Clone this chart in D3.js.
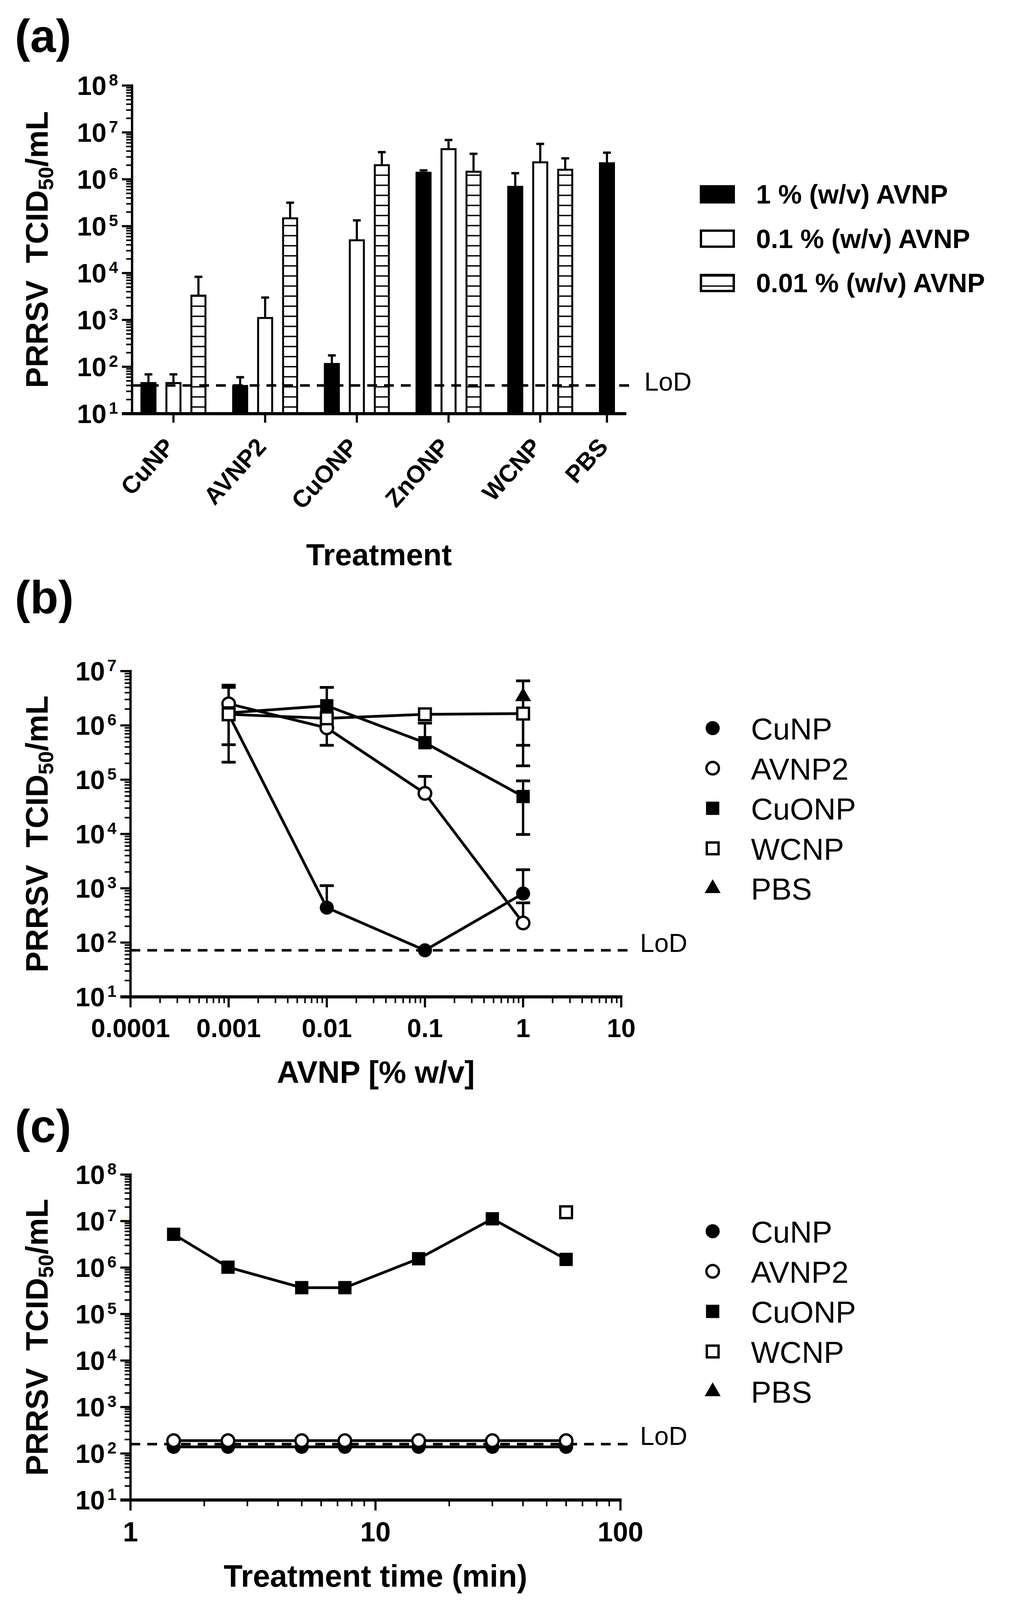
<!DOCTYPE html>
<html>
<head>
<meta charset="utf-8">
<script src="https://cdnjs.cloudflare.com/ajax/libs/d3/7.8.5/d3.min.js"></script>
<style>
  body { margin: 0; background: #fff; }
  text { font-family: "Liberation Sans", Arial, sans-serif; fill: #000; }
</style>
</head>
<body>
<svg id="fig"></svg>
<script>
var svgWidth = 2585;
var svgHeight = 4109;

/******************************* data *******************************/
// panel (a) - grouped bars
var treatments = ["CuNP", "AVNP2", "CuONP", "ZnONP", "WCNP", "PBS"];
var concLabels = ["1 % (w/v) AVNP", "0.1 % (w/v) AVNP", "0.01 % (w/v) AVNP"];
var bar1pct      = [45, 39, 115, 1.38e6, 6.9e5, 2.2e6];
var bar1pctErr   = [69, 60, 175, 1.55e6, 1.35e6, 3.7e6];
var bar01pct     = [45, 1100, 50000, 4.4e6, 2.3e6, null];
var bar01pctErr  = [69, 3000, 133000, 6.9e6, 5.7e6, null];
var bar001pct    = [3300, 147000, 2.0e6, 1.45e6, 1.6e6, null];
var bar001pctErr = [8300, 317000, 3.8e6, 3.5e6, 2.8e6, null];
var lodA = 40;

// panel (b) - dose response
var concX = [0.001, 0.01, 0.1, 1];
var bTickLabels = ["0.0001", "0.001", "0.01", "0.1", "1", "10"];
var bCuNP     = [1.6e6, 440, 72, 800];
var bCuNPLo   = [2.1e5, null, null, null];
var bCuNPHi   = [null, 1120, null, 2200];
var bAVNP2    = [2.5e6, 9.0e5, 5.6e4, 230];
var bAVNP2Lo  = [null, 4.3e5, null, null];
var bAVNP2Hi  = [5.5e6, null, 1.15e5, 540];
var bCuONP    = [1.7e6, 2.3e6, 4.8e5, 4.9e4];
var bCuONPLo  = [null, null, null, 9.8e3];
var bCuONPHi  = [5.0e6, 5.0e6, 1.1e6, 9.5e4];
var bWCNP     = [1.6e6, 1.35e6, 1.6e6, 1.65e6];
var bWCNPLo   = [4.4e5, null, null, 4.3e5];
var bWCNPHi   = [null, null, null, null];
var bPBS      = [null, null, null, 3.4e6];
var bPBSLo    = [null, null, null, 1.8e5];
var bPBSHi    = [null, null, null, 6.6e6];
var lodB = 72;

// panel (c) - time course
var timeX = [1.5, 2.5, 5, 7.5, 15, 30, 60];
var cTickLabels = ["1", "10", "100"];
var cCuNP  = [139, 139, 139, 139, 139, 139, 139];
var cAVNP2 = [189, 189, 189, 189, 189, 189, 189];
var cCuONP = [5.2e6, 1.02e6, 3.7e5, 3.7e5, 1.55e6, 1.12e7, 1.5e6];
var cWCNP  = [null, null, null, null, null, null, 1.55e7];
var cPBS   = [null, null, null, null, null, null, null];
var lodC = 159;

var seriesNames = ["CuNP", "AVNP2", "CuONP", "WCNP", "PBS"];
var seriesShape = ["circle", "circle", "square", "square", "triangle"];
var seriesFilled = [true, false, true, false, true];

/******************************* svg *******************************/
var svg = d3.select("#fig")
    .attr("width", svgWidth)
    .attr("height", svgHeight)
    .attr("viewBox", `0 0 ${svgWidth} ${svgHeight}`);

svg.append("rect").attr("width", svgWidth).attr("height", svgHeight).attr("fill", "#fff");

var defs = svg.append("defs");
var hatch = defs.append("pattern")
    .attr("id", "hatch")
    .attr("patternUnits", "userSpaceOnUse")
    .attr("x", 0).attr("y", 8.15)
    .attr("width", 10).attr("height", 25.8);
hatch.append("rect").attr("width", 10).attr("height", 25.8).attr("fill", "#fff");
hatch.append("rect").attr("width", 10).attr("height", 3.5).attr("fill", "#000");

/******************************* helpers *******************************/
function yLogAxis(g, y, x0, e0, e1) {
    g.append("line")
        .attr("x1", x0).attr("x2", x0)
        .attr("y1", y(Math.pow(10, e1)) - 3).attr("y2", y(Math.pow(10, e0)))
        .attr("stroke", "#000").attr("stroke-width", 6);
    for (var e = e0; e <= e1; e++) {
        var v = Math.pow(10, e);
        g.append("line")
            .attr("x1", x0 - 26).attr("x2", x0)
            .attr("y1", y(v)).attr("y2", y(v))
            .attr("stroke", "#000").attr("stroke-width", 5.5);
        var t = g.append("text")
            .attr("x", x0 - 36).attr("y", y(v) + 24)
            .attr("text-anchor", "end")
            .attr("font-weight", "bold")
            .attr("font-size", 68);
        t.append("tspan").text("10");
        t.append("tspan").attr("dx", 6).attr("dy", -24).attr("font-size", 42).text(e);
        if (e < e1) {
            for (var k = 2; k <= 9; k++) {
                g.append("line")
                    .attr("x1", x0 - 15).attr("x2", x0)
                    .attr("y1", y(k * v)).attr("y2", y(k * v))
                    .attr("stroke", "#000").attr("stroke-width", 4);
            }
        }
    }
}

function xLogAxis(g, x, y0, e0, e1, labels, labelDy, fontSize) {
    g.append("line")
        .attr("x1", x(Math.pow(10, e0)) - 26).attr("x2", x(Math.pow(10, e1)) + 3)
        .attr("y1", y0).attr("y2", y0)
        .attr("stroke", "#000").attr("stroke-width", 8);
    for (var e = e0; e <= e1; e++) {
        var v = Math.pow(10, e);
        g.append("line")
            .attr("x1", x(v)).attr("x2", x(v))
            .attr("y1", y0).attr("y2", y0 + 27)
            .attr("stroke", "#000").attr("stroke-width", 5.5);
        g.append("text")
            .attr("x", x(v)).attr("y", y0 + labelDy)
            .attr("text-anchor", "middle")
            .attr("font-weight", "bold")
            .attr("font-size", fontSize)
            .text(labels[e - e0]);
        if (e < e1) {
            for (var k = 2; k <= 9; k++) {
                g.append("line")
                    .attr("x1", x(k * v)).attr("x2", x(k * v))
                    .attr("y1", y0).attr("y2", y0 + 16)
                    .attr("stroke", "#000").attr("stroke-width", 4);
            }
        }
    }
}

function yTitle(g, cx, cy) {
    var t = g.append("text")
        .attr("transform", `translate(${cx},${cy}) rotate(-90)`)
        .attr("text-anchor", "middle")
        .attr("font-weight", "bold")
        .attr("font-size", 80);
    t.append("tspan").text("PRRSV");
    t.append("tspan").attr("dx", 44).text("TCID");
    t.append("tspan").attr("font-size", 54).attr("dy", 14).text("50");
    t.append("tspan").attr("dy", -14).text("/mL");
}

function panelLabel(txt, y) {
    svg.append("text")
        .attr("x", 38).attr("y", y)
        .attr("font-weight", "bold")
        .attr("font-size", 118)
        .text(txt);
}

function lodLine(g, x1, x2, yv, textX, textDy) {
    g.append("line")
        .attr("x1", x1).attr("x2", x2)
        .attr("y1", yv).attr("y2", yv)
        .attr("stroke", "#000").attr("stroke-width", 6.5)
        .attr("stroke-dasharray", "25 18");
    g.append("text")
        .attr("x", textX).attr("y", yv + textDy)
        .attr("font-size", 66)
        .text("LoD");
}

function marker(g, shape, filled, cx, cy) {
    if (shape === "circle") {
        g.append("circle")
            .attr("cx", cx).attr("cy", cy)
            .attr("r", filled ? 18 : 16)
            .attr("fill", filled ? "#000" : "#fff")
            .attr("stroke", "#000").attr("stroke-width", filled ? 0 : 6);
    } else if (shape === "square") {
        var s = filled ? 34 : 30;
        g.append("rect")
            .attr("x", cx - s / 2).attr("y", cy - s / 2)
            .attr("width", s).attr("height", s)
            .attr("fill", filled ? "#000" : "#fff")
            .attr("stroke", "#000").attr("stroke-width", filled ? 0 : 6);
    } else {
        g.append("path")
            .attr("transform", `translate(${cx},${cy})`)
            .attr("d", d3.symbol().type(d3.symbolTriangle).size(720)())
            .attr("fill", "#000");
    }
}

function seriesLegend(g, x, y0, step) {
    seriesNames.forEach(function(name, i) {
        var yy = y0 + i * step;
        marker(g, seriesShape[i], seriesFilled[i], x, yy);
        g.append("text")
            .attr("x", x + 98).attr("y", yy + 29)
            .attr("font-size", 78)
            .text(name);
    });
}

/******************************* panel (a) *******************************/
var gA = svg.append("g");
var groupStep = 3.67;
var xA = d3.scaleLinear().domain([-0.656, 19.125]).range([338, 1603]);
var yA = d3.scaleLog().domain([10, 1e8]).range([1059, 219]);

var barSeries = [
    {vals: bar1pct, err: bar1pctErr, fill: "#000"},
    {vals: bar01pct, err: bar01pctErr, fill: "#fff"},
    {vals: bar001pct, err: bar001pctErr, fill: "url(#hatch)"}
];
var barW = 36;

// bars
treatments.forEach(function(tr, gi) {
    var slots = [];
    barSeries.forEach(function(s, si) {
        var v = s.vals[gi];
        if (v == null) return;
        var slot = gi * groupStep + si;
        slots.push(slot);
        var xc = xA(slot);
        gA.append("rect")
            .attr("x", xc - barW / 2).attr("y", yA(v))
            .attr("width", barW).attr("height", yA(10) - yA(v))
            .attr("fill", s.fill)
            .attr("stroke", "#000").attr("stroke-width", 5);
        var hi = s.err[gi];
        gA.append("line")
            .attr("x1", xc).attr("x2", xc)
            .attr("y1", yA(v)).attr("y2", yA(hi))
            .attr("stroke", "#000").attr("stroke-width", 5.5);
        gA.append("line")
            .attr("x1", xc - 10).attr("x2", xc + 10)
            .attr("y1", yA(hi)).attr("y2", yA(hi))
            .attr("stroke", "#000").attr("stroke-width", 6);
    });
    var center = xA(d3.mean(slots));
    gA.append("line")
        .attr("x1", center).attr("x2", center)
        .attr("y1", yA(10)).attr("y2", yA(10) + 23)
        .attr("stroke", "#000").attr("stroke-width", 5.5);
    gA.append("text")
        .attr("transform", `translate(${center + 6},${1146}) rotate(-48)`)
        .attr("text-anchor", "end")
        .attr("font-weight", "bold")
        .attr("font-size", 62)
        .text(tr);
});

lodLine(gA, 338, 1620, yA(lodA), 1649, 13);

yLogAxis(gA, yA, 338, 1, 8);
gA.append("line")
    .attr("x1", 338 - 26).attr("x2", 1603)
    .attr("y1", yA(10)).attr("y2", yA(10))
    .attr("stroke", "#000").attr("stroke-width", 8);

yTitle(gA, 122, (yA(10) + yA(1e8)) / 2);
gA.append("text")
    .attr("x", 970).attr("y", 1447)
    .attr("text-anchor", "middle")
    .attr("font-weight", "bold")
    .attr("font-size", 78)
    .text("Treatment");

// legend (a)
var legFill = ["#000", "#fff", "url(#hatch)"];
concLabels.forEach(function(lbl, i) {
    var yy = 477 + i * 113.5;
    gA.append("rect")
        .attr("x", 1794).attr("y", yy)
        .attr("width", 84).attr("height", 41)
        .attr("fill", legFill[i])
        .attr("stroke", "#000").attr("stroke-width", 6);
    gA.append("text")
        .attr("x", 1935).attr("y", yy + 44)
        .attr("font-weight", "bold")
        .attr("font-size", 68)
        .text(lbl);
});
panelLabel("(a)", 133);

/******************************* panel (b) *******************************/
var gB = svg.append("g");
var xB = d3.scaleLog().domain([1e-4, 10]).range([334, 1590]);
var yB = d3.scaleLog().domain([10, 1e7]).range([2552, 1718]);

var bSeries = [
    {y: bCuNP, lo: bCuNPLo, hi: bCuNPHi},
    {y: bAVNP2, lo: bAVNP2Lo, hi: bAVNP2Hi},
    {y: bCuONP, lo: bCuONPLo, hi: bCuONPHi},
    {y: bWCNP, lo: bWCNPLo, hi: bWCNPHi},
    {y: bPBS, lo: bPBSLo, hi: bPBSHi}
];

lodLine(gB, 334, 1611, yB(lodB), 1638, 4);

function errBars(g, xs, yScale, xScale, s) {
    xs.forEach(function(xv, i) {
        if (s.y[i] == null) return;
        var cx = xScale(xv);
        [s.lo[i], s.hi[i]].forEach(function(ev) {
            if (ev == null) return;
            g.append("line")
                .attr("x1", cx).attr("x2", cx)
                .attr("y1", yScale(s.y[i])).attr("y2", yScale(ev))
                .attr("stroke", "#000").attr("stroke-width", 6);
            g.append("line")
                .attr("x1", cx - 18).attr("x2", cx + 18)
                .attr("y1", yScale(ev)).attr("y2", yScale(ev))
                .attr("stroke", "#000").attr("stroke-width", 7);
        });
    });
}

function drawSeries(g, xs, ys, xScale, yScale, si) {
    var pts = xs.map(function(xv, i) { return [xv, ys[i]]; })
        .filter(function(p) { return p[1] != null; });
    var line = d3.line()
        .x(function(p) { return xScale(p[0]); })
        .y(function(p) { return yScale(p[1]); });
    if (pts.length > 1) {
        g.append("path")
            .attr("d", line(pts))
            .attr("fill", "none")
            .attr("stroke", "#000").attr("stroke-width", 7);
    }
    pts.forEach(function(p) {
        marker(g, seriesShape[si], seriesFilled[si], xScale(p[0]), yScale(p[1]));
    });
}

bSeries.forEach(function(s) { errBars(gB, concX, yB, xB, s); });
bSeries.forEach(function(s, si) { drawSeries(gB, concX, s.y, xB, yB, si); });

yLogAxis(gB, yB, 334, 1, 7);
xLogAxis(gB, xB, 2552, -4, 1, bTickLabels, 103, 66);
yTitle(gB, 122, (yB(10) + yB(1e7)) / 2);
gB.append("text")
    .attr("x", 962).attr("y", 2772)
    .attr("text-anchor", "middle")
    .attr("font-weight", "bold")
    .attr("font-size", 79)
    .text("AVNP [% w/v]");
seriesLegend(gB, 1824, 1864, 102.6);
panelLabel("(b)", 1570);

/******************************* panel (c) *******************************/
var gC = svg.append("g");
var xC = d3.scaleLog().domain([1, 100]).range([334, 1588]);
var yC = d3.scaleLog().domain([10, 1e8]).range([3840, 3007]);

lodLine(gC, 334, 1611, yC(lodC), 1638, 2);

var cSeries = [cCuNP, cAVNP2, cCuONP, cWCNP, cPBS];
cSeries.forEach(function(ys, si) { drawSeries(gC, timeX, ys, xC, yC, si); });

yLogAxis(gC, yC, 334, 1, 8);
xLogAxis(gC, xC, 3840, 0, 2, cTickLabels, 106, 70);
yTitle(gC, 122, (yC(10) + yC(1e8)) / 2);
gC.append("text")
    .attr("x", 961).attr("y", 4062)
    .attr("text-anchor", "middle")
    .attr("font-weight", "bold")
    .attr("font-size", 79)
    .text("Treatment time (min)");
seriesLegend(gC, 1824, 3152, 102.6);
panelLabel("(c)", 2924);
</script>
</body>
</html>
